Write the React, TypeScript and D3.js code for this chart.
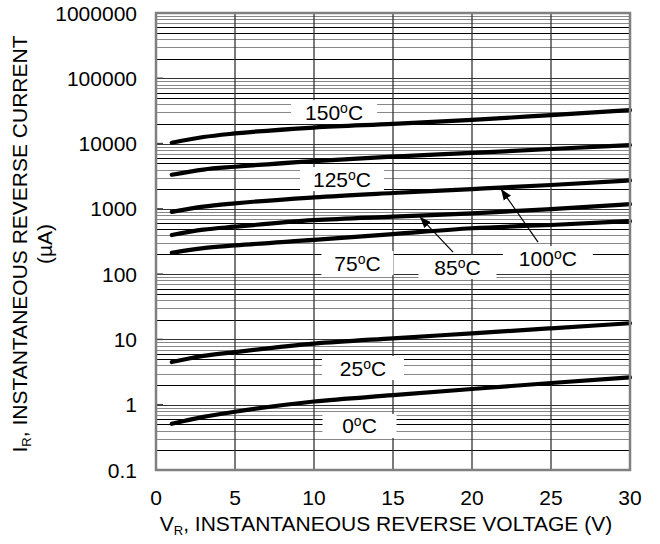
import React from "react";
import * as d3 from "d3";

// Reverse voltage (V) sample points
const VOLTS = [1, 3, 5, 10, 15, 20, 25, 30];
// Reverse current (µA) per temperature
const I_150 = [10300, 12600, 14300, 17600, 20000, 23000, 27300, 32600];
const I_125 = [3330, 4000, 4420, 5400, 6300, 7200, 8250, 9500];
const I_100 = [900, 1080, 1215, 1500, 1750, 2010, 2320, 2730];
const I_85 = [397, 480, 533, 670, 760, 852, 993, 1180];
const I_75 = [212, 250, 275, 335, 410, 505, 566, 650];
const I_25 = [4.5, 5.6, 6.4, 8.6, 10.4, 12.4, 14.8, 17.7];
const I_0 = [0.51, 0.65, 0.78, 1.12, 1.4, 1.74, 2.15, 2.62];

const SERIES = [I_150, I_125, I_100, I_85, I_75, I_25, I_0];

const X_TICKS = [0, 5, 10, 15, 20, 25, 30];
const Y_TICKS = [0.1, 1, 10, 100, 1000, 10000, 100000, 1000000];
const Y_TICK_LABELS = ["0.1", "1", "10", "100", "1000", "10000", "100000", "1000000"];

// Temperature labels (value, V, log10 I)
const LABEL_TEXT = ["150", "125", "75", "85", "100", "25", "0"];
const LABEL_V = [11.27, 11.77, 12.75, 19.08, 24.8, 13.1, 12.88];
const LABEL_LOGI = [4.482, 3.456, 2.17, 2.109, 2.247, 0.562, -0.326];
const LABEL_W = [86, 84, 72, 78, 90, 82, 74];

// Arrows: tail (V, logI) -> head (V, logI)
const ARROW_TAIL_V = [24.18, 18.8];
const ARROW_TAIL_LOGI = [2.49, 2.338];
const ARROW_HEAD_V = [21.84, 16.71];
const ARROW_HEAD_LOGI = [3.303, 2.874];

const FONT = "'Liberation Sans', Arial, Helvetica, sans-serif";

export default function App() {
  const L = 156, R = 630, T = 13, B = 470;
  const x = d3.scaleLinear().domain([0, 30]).range([L, R]);
  const y = d3.scaleLog().domain([0.1, 1e6]).range([B, T]);

  const gridColor: Record<number, string> = {
    1: "#333", 2: "#000", 3: "#888", 4: "#888", 5: "#000", 6: "#000", 7: "#888", 8: "#888", 9: "#888",
  };
  const hLines: { v: number; c: string }[] = [];
  for (let k = -1; k < 6; k++) {
    for (let m = 1; m <= 9; m++) {
      const v = m * Math.pow(10, k);
      if (v <= 0.1 + 1e-9) continue;
      hLines.push({ v, c: gridColor[m] });
    }
  }

  const line = d3
    .line<number>()
    .x((_, i) => x(VOLTS[i]))
    .y((d) => y(d))
    .curve(d3.curveMonotoneX);

  return (
    <svg
      width={660}
      height={544}
      style={{ position: "absolute", left: 0, top: 0, background: "#fff" }}
      fontFamily={FONT}
    >
      <defs>
        <marker id="ah" viewBox="0 0 10 10" refX="10" refY="5" markerWidth="11" markerHeight="11" markerUnits="userSpaceOnUse" orient="auto">
          <path d="M0,1 L10,5 L0,9 Z" fill="#000" />
        </marker>
      </defs>
      <rect x={0} y={0} width={660} height={544} fill="#fff" />
      {/* horizontal grid */}
      {hLines.map((h, i) => (
        <line key={"h" + i} x1={L} x2={R} y1={Math.round(y(h.v)) + 0.5} y2={Math.round(y(h.v)) + 0.5} stroke={h.c} strokeWidth={1} />
      ))}
      {/* vertical grid */}
      {X_TICKS.slice(1, -1).map((t) => (
        <line key={"v" + t} x1={x(t)} x2={x(t)} y1={T} y2={B} stroke="#333" strokeWidth={1.3} />
      ))}
      {/* decade tick marks inside left edge */}
      {Y_TICKS.map((t) => (
        <line key={"dt" + t} x1={L} x2={L + 7} y1={y(t)} y2={y(t)} stroke="#444" strokeWidth={1.5} />
      ))}
      {/* label boxes */}
      {LABEL_TEXT.map((t, i) => (
        <rect key={"lb" + i} x={x(LABEL_V[i]) - LABEL_W[i] / 2} y={y(Math.pow(10, LABEL_LOGI[i])) - 12} width={LABEL_W[i]} height={24} fill="#fff" />
      ))}
      {/* curves */}
      {SERIES.map((s, i) => (
        <path key={"c" + i} d={line(s) || ""} fill="none" stroke="#000" strokeWidth={4.2} strokeLinecap="round" />
      ))}
      {/* frame */}
      <rect x={L} y={T} width={R - L} height={B - T} fill="none" stroke="#808080" strokeWidth={2.5} />
      {/* arrows */}
      {ARROW_TAIL_V.map((v, i) => (
        <line
          key={"a" + i}
          x1={x(v)}
          y1={y(Math.pow(10, ARROW_TAIL_LOGI[i]))}
          x2={x(ARROW_HEAD_V[i])}
          y2={y(Math.pow(10, ARROW_HEAD_LOGI[i]))}
          stroke="#000"
          strokeWidth={1.2}
          markerEnd="url(#ah)"
        />
      ))}
      {/* labels */}
      {LABEL_TEXT.map((t, i) => (
        <text key={"lt" + i} x={x(LABEL_V[i])} y={y(Math.pow(10, LABEL_LOGI[i])) + 7.5} textAnchor="middle" fontSize={21} fill="#000">
          {t}
          <tspan fontSize={14} dy={-7}>o</tspan>
          <tspan dy={7}>C</tspan>
        </text>
      ))}
      {/* x tick labels */}
      {X_TICKS.map((t) => (
        <text key={"xt" + t} x={x(t)} y={505} textAnchor="middle" fontSize={21} fill="#000">
          {t}
        </text>
      ))}
      {/* y tick labels */}
      {Y_TICKS.map((t, i) => (
        <text key={"yt" + t} x={137} y={y(t) + 7.5} textAnchor="end" fontSize={21} fill="#000">
          {Y_TICK_LABELS[i]}
        </text>
      ))}
      {/* x title */}
      <text x={386} y={531} textAnchor="middle" fontSize={21} fill="#000">
        V<tspan fontSize={13} dy={4}>R</tspan>
        <tspan dy={-4}>, INSTANTANEOUS REVERSE VOLTAGE (V)</tspan>
      </text>
      {/* y title */}
      <g transform="translate(27,244) rotate(-90)">
        <text x={0} y={0} textAnchor="middle" fontSize={21} fill="#000">
          I<tspan fontSize={13} dy={4}>R</tspan>
          <tspan dy={-4}>, INSTANTANEOUS REVERSE CURRENT</tspan>
        </text>
        <text x={0} y={25} textAnchor="middle" fontSize={21} fill="#000">
          (µA)
        </text>
      </g>
    </svg>
  );
}
